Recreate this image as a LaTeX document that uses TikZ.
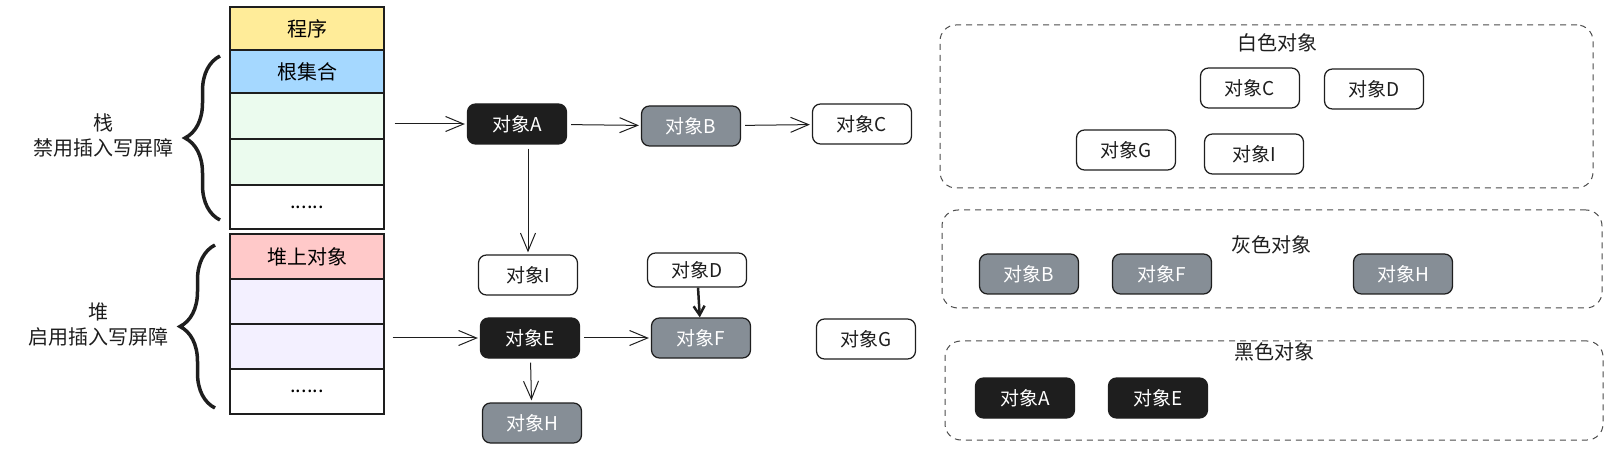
\documentclass[tikz,border=0pt]{standalone}
\usepackage{fontspec}
\setmainfont{Noto Sans CJK SC}
\usetikzlibrary{arrows.meta,decorations.pathreplacing}
\definecolor{inkdark}{HTML}{1E1E1E}
\definecolor{objgray}{HTML}{868E96}
\definecolor{progyellow}{HTML}{FFEC99}
\definecolor{rootblue}{HTML}{A5D8FF}
\definecolor{stackgreen}{HTML}{EBFBEE}
\definecolor{heappink}{HTML}{FFC9C9}
\definecolor{heaplilac}{HTML}{F3F0FF}

\begin{document}
\begin{tikzpicture}
[every node/.style={inner sep=0pt},
 cell/.style={rectangle, minimum width=154pt, line width=1.25pt, draw=inkdark, font=\fontsize{20pt}{24pt}\selectfont},
 obj/.style={rectangle, rounded corners=8pt, minimum width=99pt, minimum height=40pt, line width=1.25pt, draw=inkdark, font=\fontsize{19pt}{22pt}\selectfont},
 whiteobj/.style={obj, fill=white, text=inkdark},
 grayobj/.style={obj, fill=objgray, text=white},
 blackobj/.style={obj, fill=inkdark, text=white},
 panel/.style={rectangle, rounded corners=16pt, line width=1pt, draw=inkdark!80, dash pattern=on 6pt off 5pt},
 heading/.style={align=center, text=inkdark, font=\fontsize{20pt}{25pt}\selectfont},
 pointer/.style={line width=1pt, draw=inkdark, -{Straight Barb[length=18pt,width=15pt]}, shorten <=4pt, shorten >=2pt},
 bracket/.style={decorate, decoration={brace, amplitude=35pt}, line width=3.5pt, draw=inkdark}]
\useasboundingbox (0pt, 0pt) rectangle (1620pt, -462pt);

% stack and heap columns
\node (prog) [cell, minimum height=43pt, fill=progyellow] at (307pt, -28.5pt) {程序};
\node (root) [cell, minimum height=43pt, fill=rootblue] at (307pt, -71.5pt) {根集合};
\node (frame1) [cell, minimum height=46pt, fill=stackgreen] at (307pt, -116pt) {};
\node (frame2) [cell, minimum height=46pt, fill=stackgreen] at (307pt, -162pt) {};
\node (more1) [cell, minimum height=44pt, fill=white] at (307pt, -207pt) {......};
\node (heaptop) [cell, minimum height=45pt, fill=heappink] at (307pt, -256.5pt) {堆上对象};
\node (slot1) [cell, minimum height=45pt, fill=heaplilac] at (307pt, -301.5pt) {};
\node (slot2) [cell, minimum height=45pt, fill=heaplilac] at (307pt, -346.5pt) {};
\node (more2) [cell, minimum height=45pt, fill=white] at (307pt, -391.5pt) {......};
\draw [bracket] (220pt, -220pt) -- (220pt, -56pt);
\draw [bracket] (215pt, -408pt) -- (215pt, -245pt);
\node (stacklabel) [heading] at (103pt, -135.5pt) {栈\\禁用插入写屏障};
\node (heaplabel) [heading] at (98pt, -324.5pt) {堆\\启用插入写屏障};

% object graph
\node (objA) [blackobj] at (517pt, -124pt) {对象A};
\node (objB) [grayobj] at (691pt, -126pt) {对象B};
\node (objC) [whiteobj] at (862pt, -124pt) {对象C};
\node (objI) [whiteobj] at (528pt, -275pt) {对象I};
\node (objD) [whiteobj, minimum height=34pt] at (697pt, -270pt) {对象D};
\node (objE) [blackobj] at (530pt, -338pt) {对象E};
\node (objF) [grayobj] at (701pt, -338pt) {对象F};
\node (objG) [whiteobj] at (866pt, -339pt) {对象G};
\node (objH) [grayobj] at (532pt, -423pt) {对象H};
\draw [pointer] ([xshift=6pt]frame1.east |- objA.west) -- (objA.west);
\draw [pointer] ([xshift=4pt]slot2.east |- objE.west) -- (objE.west);
\draw [pointer] (objA) -- (objB);
\draw [pointer] (objB) -- (objC);
\draw [pointer] (objA.south -| objI.north) -- (objI.north);
\draw [pointer] (objE) -- (objF);
\draw [pointer] (objE) -- (objH);
\draw [line width=2.5pt, draw=inkdark, -{Straight Barb[length=9pt,width=11pt]}] (objD) -- (objF);

% colour sets
\node (whiteset) [panel, minimum width=653pt, minimum height=163pt] at (1266.5pt, -106.5pt) {};
\node (grayset) [panel, minimum width=660pt, minimum height=98pt] at (1272pt, -259pt) {};
\node (blackset) [panel, minimum width=658pt, minimum height=99pt] at (1274pt, -390.5pt) {};
\node (whitetitle) [heading] at (1277pt, -43pt) {白色对象};
\node (graytitle) [heading] at (1271pt, -245pt) {灰色对象};
\node (blacktitle) [heading] at (1274pt, -352pt) {黑色对象};
\node (setC) [whiteobj] at (1250pt, -88pt) {对象C};
\node (setD) [whiteobj] at (1374pt, -89pt) {对象D};
\node (setG) [whiteobj] at (1126pt, -150pt) {对象G};
\node (setI) [whiteobj] at (1254pt, -154pt) {对象I};
\node (setB) [grayobj] at (1029pt, -274pt) {对象B};
\node (setF) [grayobj] at (1162pt, -274pt) {对象F};
\node (setH) [grayobj] at (1403pt, -274pt) {对象H};
\node (setA) [blackobj] at (1025pt, -398pt) {对象A};
\node (setE) [blackobj] at (1158pt, -398pt) {对象E};
\end{tikzpicture}
\end{document}
